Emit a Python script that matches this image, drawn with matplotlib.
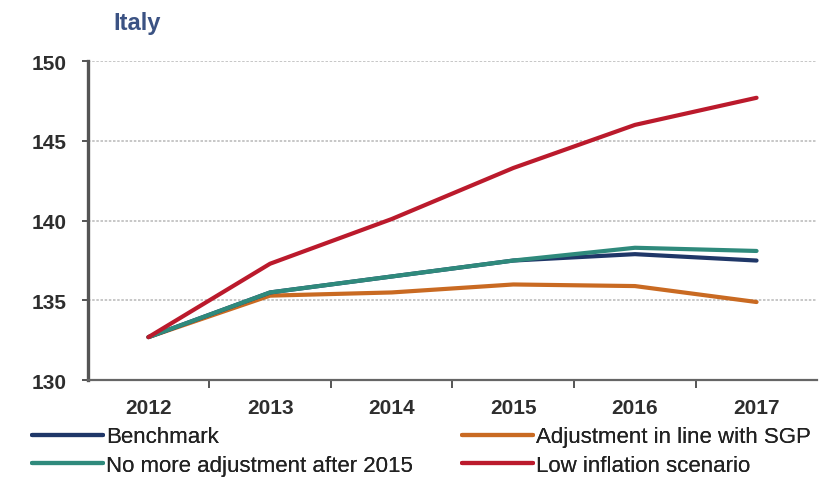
import matplotlib
matplotlib.use("Agg")
import matplotlib.pyplot as plt

plt.rcParams['font.family'] = ['Liberation Sans', 'DejaVu Sans']

years = ["2012", "2013", "2014", "2015", "2016", "2017"]
benchmark = [132.7, 135.5, 136.5, 137.5, 137.9, 137.5]
sgp_adjustment = [132.7, 135.3, 135.5, 136.0, 135.9, 134.9]
no_more_adjustment = [132.7, 135.5, 136.5, 137.5, 138.3, 138.1]
low_inflation = [132.7, 137.3, 140.1, 143.3, 146.0, 147.7]

series = [
    ("Benchmark", benchmark, "#1f3768"),
    ("No more adjustment after 2015", no_more_adjustment, "#2f8a7c"),
    ("Adjustment in line with SGP", sgp_adjustment, "#c96a22"),
    ("Low inflation scenario", low_inflation, "#bb1a2c"),
]
draw_order = [2, 0, 1, 3]

fig = plt.figure(figsize=(8.19, 4.85), dpi=100)
ax = fig.add_axes([0.107, 0.214, 0.891, 0.658])

x = list(range(len(years)))
handles = {}
for i in draw_order:
    label, vals, col = series[i]
    (h,) = ax.plot(x, vals, color=col, lw=3.0, solid_capstyle="round", label=label, zorder=3)
    handles[i] = h

ax.set_xlim(-0.5, len(years) - 0.5)
ax.set_ylim(130, 150)
ax.set_yticks([130, 135, 140, 145, 150])
ax.set_xticks(x)
ax.set_xticklabels(years)
ax.set_xticks([i + 0.5 for i in range(len(years) - 1)], minor=True)
ax.tick_params(axis="x", which="major", length=0, pad=13, labelsize=15, labelcolor="#2e2e2e")
ax.tick_params(axis="x", which="minor", length=6, width=1.4, color="#555555", direction="out")
ax.tick_params(axis="y", length=4, width=1.4, color="#555555", pad=11, labelsize=15, labelcolor="#2e2e2e")
for lab in ax.get_xticklabels() + ax.get_yticklabels():
    lab.set_fontweight("bold")

for yv in [135, 140, 145, 150]:
    ax.axhline(yv, color="#bdbdbd", lw=1.2, ls=(0, (1.5, 1)), zorder=1)

for side in ["top", "right"]:
    ax.spines[side].set_visible(False)
ax.spines["left"].set_color("#555555")
ax.spines["left"].set_linewidth(2.4)
ax.spines["bottom"].set_color("#666666")
ax.spines["bottom"].set_linewidth(1.6)

fig.text(0.138, 0.952, "Italy", color="#3b5283", fontsize=17, fontweight="bold", ha="left", va="center")

legend_kw = dict(loc="center left", frameon=False, fontsize=16, handlelength=3.2,
                 handletextpad=0.12, labelspacing=0.32, borderaxespad=0, borderpad=0)
for cols, x0 in (([0, 1], 32 / 819), ([2, 3], 462 / 819)):
    leg = fig.legend([handles[i] for i in cols], [series[i][0] for i in cols],
                     bbox_to_anchor=(x0, 1 - 452 / 485), **legend_kw)
    for t in leg.get_texts():
        t.set_color("#222222")
    fig.add_artist(leg)

fig.savefig("out.png", dpi=100)
